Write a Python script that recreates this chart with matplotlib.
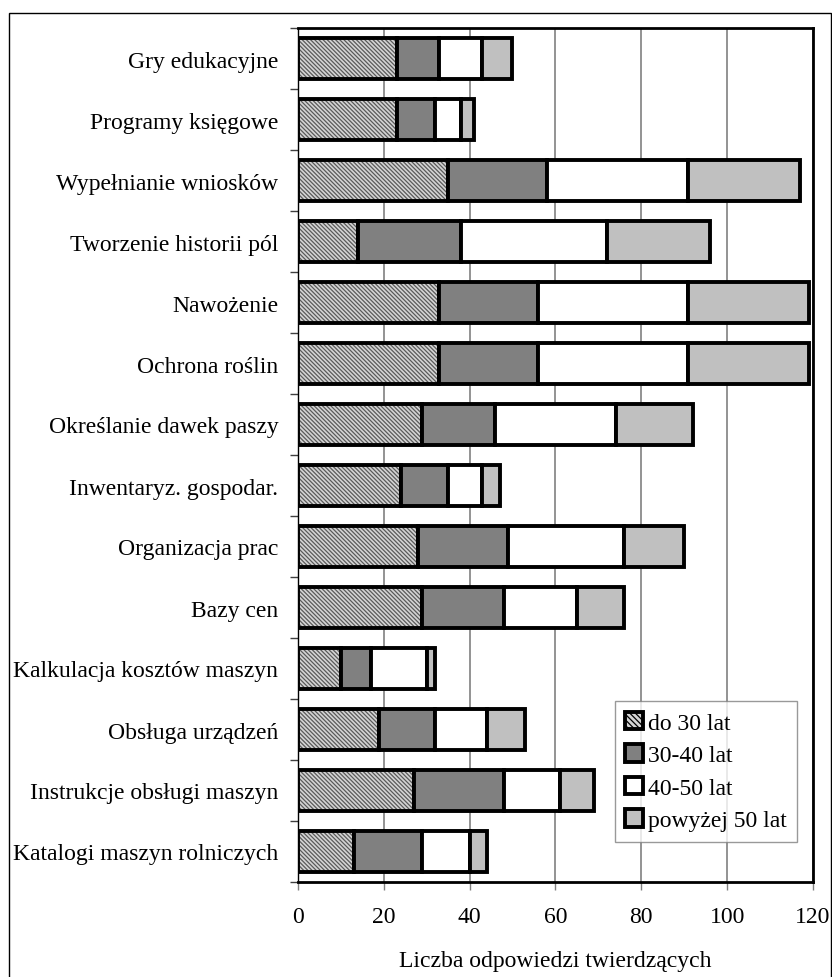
import numpy as np
import matplotlib.pyplot as plt
from matplotlib.patches import Patch, Rectangle

plt.rcParams['font.family'] = ['Liberation Serif', 'DejaVu Serif']
plt.rcParams['hatch.linewidth'] = 0.9

categories = ['Gry edukacyjne', 'Programy księgowe', 'Wypełnianie wniosków',
              'Tworzenie historii pól', 'Nawożenie', 'Ochrona roślin',
              'Określanie dawek paszy', 'Inwentaryz. gospodar.', 'Organizacja prac',
              'Bazy cen', 'Kalkulacja kosztów maszyn', 'Obsługa urządzeń',
              'Instrukcje obsługi maszyn', 'Katalogi maszyn rolniczych']
do_30 = [23, 23, 35, 14, 33, 33, 29, 24, 28, 29, 10, 19, 27, 13]
od_30_40 = [10, 9, 23, 24, 23, 23, 17, 11, 21, 19, 7, 13, 21, 16]
od_40_50 = [10, 6, 33, 34, 35, 35, 28, 8, 27, 17, 13, 12, 13, 11]
pow_50 = [7, 3, 26, 24, 28, 28, 18, 4, 14, 11, 2, 9, 8, 4]
series_names = ['do 30 lat', '30-40 lat', '40-50 lat', 'powyżej 50 lat']

fills = ['#d4d4d4', '#808080', '#ffffff', '#c0c0c0']
hatch = '\\' * 8
edge_lw = 2.8
bar_h = 0.68
fs = 17

fig = plt.figure(figsize=(8.32, 9.78), dpi=100)
ax = fig.add_axes([297.8 / 832, 95 / 978, 515.2 / 832, 854 / 978])

y = np.arange(len(categories))
series = [do_30, od_30_40, od_40_50, pow_50]
left = np.zeros(len(categories))
for i, vals in enumerate(series):
    vals = np.array(vals)
    if i == 0:
        # hatched fill for the youngest group, outline drawn on top
        ax.barh(y, vals, left=left, height=bar_h, color=fills[i],
                edgecolor='#5a5a5a', hatch=hatch, linewidth=0, zorder=2)
        ax.barh(y, vals, left=left, height=bar_h, fill=False,
                edgecolor='black', linewidth=edge_lw, zorder=3)
    else:
        ax.barh(y, vals, left=left, height=bar_h, color=fills[i],
                edgecolor='black', linewidth=edge_lw, zorder=3)
    left += vals

ax.set_xlim(0, 120)
ax.set_ylim(len(categories) - 0.5, -0.5)
ax.set_xticks(np.arange(0, 121, 20))
ax.xaxis.grid(True, color='#808080', linewidth=1.2, zorder=0)
ax.set_axisbelow(True)

ax.set_yticks(y)
ax.set_yticklabels(categories)
ax.set_yticks(np.arange(-0.5, len(categories)), minor=True)
ax.tick_params(axis='y', which='major', length=0, pad=14, labelsize=fs)
ax.tick_params(axis='y', which='minor', length=6, width=1, color='#404040')
ax.tick_params(axis='x', length=6, width=1, color='#808080', pad=11, labelsize=fs)

for side in ['top', 'right', 'bottom']:
    ax.spines[side].set_linewidth(2)
    ax.spines[side].set_color('black')
ax.spines['left'].set_linewidth(1)

ax.set_xlabel('Liczba odpowiedzi twierdzących', fontsize=fs, labelpad=17)

handles = [Patch(facecolor=fills[0], edgecolor='black', hatch='\\' * 6, linewidth=2.8),
           Patch(facecolor=fills[1], edgecolor='black', linewidth=2.8),
           Patch(facecolor=fills[2], edgecolor='black', linewidth=2.8),
           Patch(facecolor=fills[3], edgecolor='black', linewidth=2.8)]
leg = ax.legend(handles, series_names, loc='lower right', bbox_to_anchor=(797 / 832, (978 - 843) / 978),
                bbox_transform=fig.transFigure, fontsize=fs, frameon=True, fancybox=False,
                handlelength=0.75, handleheight=0.75, handletextpad=0.2, labelspacing=0.45,
                borderpad=0.45, borderaxespad=0)
leg.get_frame().set_edgecolor('#808080')
leg.get_frame().set_linewidth(1)

fig.patches.append(Rectangle((9 / 832, -0.05), 822 / 832, (978 - 14) / 978 + 0.05,
                             transform=fig.transFigure, fill=False,
                             edgecolor='black', linewidth=1))

fig.savefig('out.png', dpi=100)
